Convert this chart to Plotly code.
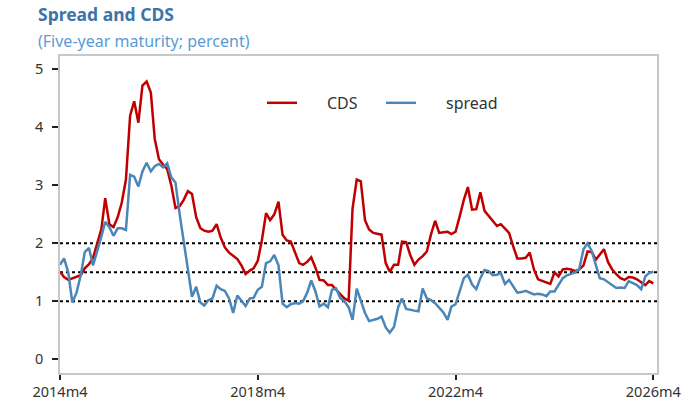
import pandas as pd
import plotly.graph_objects as go

start_month = "2014-04-01"

cds = [1.51, 1.42, 1.37, 1.40, 1.43, 1.45, 1.57, 1.64, 1.75, 2.00,
       2.25, 2.78, 2.33, 2.28, 2.45, 2.70, 3.10, 4.20, 4.45, 4.08,
       4.72, 4.79, 4.60, 3.80, 3.45, 3.36, 3.28, 3.00, 2.61, 2.64,
       2.75, 2.90, 2.85, 2.45, 2.26, 2.22, 2.20, 2.22, 2.33, 2.10,
       1.93, 1.84, 1.78, 1.73, 1.62, 1.47, 1.53, 1.57, 1.70, 2.05,
       2.52, 2.40, 2.50, 2.72, 2.15, 2.05, 2.03, 1.85, 1.66, 1.63,
       1.68, 1.76, 1.58, 1.37, 1.36, 1.28, 1.28, 1.20, 1.13, 1.05,
       1.01, 2.60, 3.10, 3.07, 2.40, 2.24, 2.18, 2.17, 2.15, 1.66,
       1.51, 1.63, 1.63, 2.03, 2.02, 1.80, 1.63, 1.72, 1.78, 1.86,
       2.15, 2.39, 2.18, 2.19, 2.20, 2.16, 2.20, 2.46, 2.75, 2.97,
       2.58, 2.59, 2.88, 2.56, 2.48, 2.38, 2.30, 2.33, 2.26, 2.18,
       1.95, 1.74, 1.74, 1.75, 1.84, 1.55, 1.38, 1.35, 1.32, 1.30,
       1.50, 1.43, 1.55, 1.56, 1.55, 1.52, 1.55, 1.62, 1.86, 1.85,
       1.72, 1.80, 1.90, 1.68, 1.55, 1.47, 1.40, 1.37, 1.42, 1.41,
       1.38, 1.33, 1.28, 1.35, 1.31]

spread = [1.63, 1.74, 1.50, 0.98, 1.15, 1.45, 1.85, 1.92, 1.62, 1.85,
          2.12, 2.37, 2.28, 2.13, 2.26, 2.26, 2.23, 3.18, 3.15, 2.98,
          3.24, 3.39, 3.24, 3.33, 3.37, 3.31, 3.38, 3.14, 3.05, 2.50,
          2.05, 1.55, 1.08, 1.25, 0.98, 0.93, 1.02, 1.05, 1.27, 1.21,
          1.18, 1.05, 0.80, 1.10, 1.02, 0.92, 1.05, 1.06, 1.20, 1.25,
          1.66, 1.69, 1.80, 1.62, 0.96, 0.90, 0.95, 0.97, 0.96, 1.00,
          1.15, 1.36, 1.17, 0.91, 0.96, 0.90, 1.20, 1.22, 1.06, 1.00,
          0.90, 0.68, 1.22, 1.02, 0.80, 0.66, 0.68, 0.70, 0.74, 0.55,
          0.46, 0.56, 0.90, 1.05, 0.87, 0.85, 0.84, 0.83, 1.22, 1.05,
          1.02, 0.97, 0.90, 0.81, 0.68, 0.91, 0.95, 1.17, 1.40, 1.46,
          1.29, 1.21, 1.40, 1.54, 1.52, 1.45, 1.46, 1.49, 1.30, 1.37,
          1.25, 1.15, 1.16, 1.18, 1.15, 1.12, 1.13, 1.12, 1.09, 1.17,
          1.17, 1.28, 1.40, 1.45, 1.47, 1.50, 1.56, 1.90, 2.00, 1.87,
          1.62, 1.40, 1.38, 1.33, 1.28, 1.23, 1.24, 1.23, 1.35, 1.31,
          1.28, 1.21, 1.43, 1.49, 1.51]

ref_levels = [1.0, 1.5, 2.0]
x_tick_dates = ["2014-04-01", "2018-04-01", "2022-04-01", "2026-04-01"]
x_tick_labels = ["2014m4", "2018m4", "2022m4", "2026m4"]
y_tick_vals = [0, 1, 2, 3, 4, 5]

title_text = "Spread and CDS"
subtitle_text = "(Five-year maturity; percent)"

dates = pd.date_range(start_month, periods=len(cds), freq="MS")

FONT = "Noto Sans"
TXT = "#333333"
GAP = "\u00a0" * 6  # widen the gap between legend line sample and its label

fig = go.Figure()
fig.add_trace(go.Scatter(x=dates, y=cds, mode="lines", name=GAP + "CDS",
                         line=dict(color="#c00000", width=2.5)))
fig.add_trace(go.Scatter(x=dates, y=spread, mode="lines", name=GAP + "spread",
                         line=dict(color="#4a86b8", width=2.5)))

for lv in ref_levels:
    fig.add_shape(type="line", xref="paper", x0=0, x1=1, yref="y", y0=lv, y1=lv,
                  line=dict(color="black", width=2, dash="dot"), layer="below")

# plot area at x 60-657, y 56-373 of the 697x415 page
fig.update_layout(
    width=697, height=415,
    margin=dict(l=60, r=40, t=56, b=42),
    paper_bgcolor="white", plot_bgcolor="white",
    font=dict(family=FONT, color=TXT, size=14),
    showlegend=True,
    legend=dict(orientation="h", x=0.3384, y=0.852, xanchor="left", yanchor="middle",
                bgcolor="rgba(0,0,0,0)", font=dict(size=16, color=TXT),
                entrywidth=74, entrywidthmode="pixels"),
    annotations=[
        dict(text=f"<b>{title_text}</b>", xref="paper", yref="paper",
             x=-0.0402, y=1.0883, xanchor="left", yanchor="bottom", showarrow=False,
             font=dict(size=17.5, color="#3d74a8", family=FONT)),
        dict(text=subtitle_text, xref="paper", yref="paper",
             x=-0.0402, y=1.0883, xanchor="left", yanchor="top", showarrow=False,
             font=dict(size=16, color="#5b9bd5", family=FONT)),
    ],
)

fig.update_xaxes(
    type="date",
    range=["2014-04-01", "2026-04-28"],
    tickvals=x_tick_dates, ticktext=x_tick_labels,
    ticks="outside", ticklen=5, tickwidth=2, tickcolor="#222222",
    showline=True, linecolor="#c8c8c8", linewidth=1.5, mirror=True,
    showgrid=False, zeroline=False,
    tickfont=dict(size=14.5, color=TXT),
)
fig.update_yaxes(
    range=[-0.235, 5.23],
    tickvals=y_tick_vals,
    ticks="outside", ticklen=6, tickwidth=2, tickcolor="#222222",
    showline=True, linecolor="#c8c8c8", linewidth=1.5, mirror=True,
    showgrid=False, zeroline=False,
    tickfont=dict(size=14.5, color=TXT),
    ticklabelstandoff=6,
)

fig.write_html("out.html",
               config={"displayModeBar": False},
               post_script="document.body.style.margin='0px';")
